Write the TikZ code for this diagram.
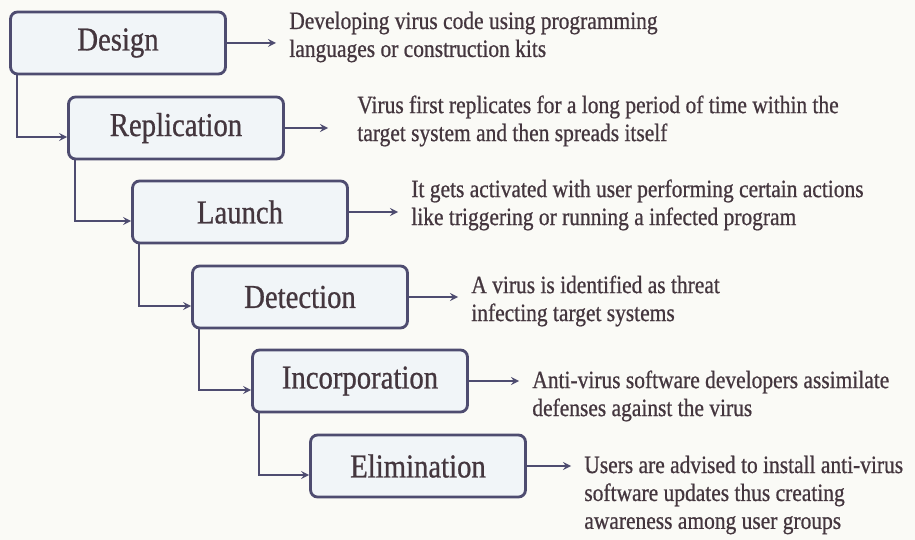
\documentclass[tikz,border=0pt]{standalone}
\usepackage{fontspec}
\setmainfont[FakeStretch=0.86, FakeBold=0.7]{Liberation Serif}
\usetikzlibrary{positioning}
\definecolor{boxline}{RGB}{78,76,112}
\definecolor{boxfill}{RGB}{241,245,248}
\definecolor{ink}{RGB}{68,54,62}
\definecolor{paper}{RGB}{250,250,246}
\begin{document}
\begin{tikzpicture}[x=0.02cm, y=-0.02cm,
        stage/.style={draw=boxline, fill=boxfill, line width=1.6pt, rounded corners=4pt,
            minimum width=4.3cm, minimum height=1.24cm, text=ink, font=\fontsize{19}{22}\selectfont},
        desc/.style={anchor=west, align=left, text=ink, inner xsep=0.26cm, inner ysep=0pt,
            font=\fontsize{14.2}{15.9}\selectfont},
        flow/.style={->, >=stealth, draw=boxline, line width=1pt}]
    \fill[paper] (0,0) rectangle (915,540);
    \useasboundingbox (0,0) rectangle (915,540);
    % stages
    \node[stage] (design) at (118,43) {Design};
    \node[stage] (repl) at (176,128) {Replication};
    \node[stage] (launch) at (240,212) {Launch};
    \node[stage] (detect) at (300,297) {Detection};
    \node[stage] (incorp) at (360,381) {Incorporation};
    \node[stage] (elim) at (418,466) {Elimination};
    % descriptions
    \node[desc] (designtxt) at (276,37) {Developing virus code using programming\\languages or construction kits};
    \node[desc] (repltxt) at (344,121) {Virus first replicates for a long period of time within the\\target system and then spreads itself};
    \node[desc] (launchtxt) at (398,205) {It gets activated with user performing certain actions\\like triggering or running a infected program};
    \node[desc] (detecttxt) at (458,301) {A virus is identified as threat\\infecting target systems};
    \node[desc] (incorptxt) at (519,396) {Anti-virus software developers assimilate\\defenses against the virus};
    \node[desc] (elimtxt) at (571,495) {Users are advised to install anti-virus\\software updates thus creating\\awareness among user groups};
    % steps down the staircase
    \draw[flow] ([xshift=0.16cm]design.south west) |- ([yshift=-0.18cm]repl.west);
    \draw[flow] ([xshift=0.16cm]repl.south west) |- ([yshift=-0.18cm]launch.west);
    \draw[flow] ([xshift=0.16cm]launch.south west) |- ([yshift=-0.18cm]detect.west);
    \draw[flow] ([xshift=0.16cm]detect.south west) |- ([yshift=-0.18cm]incorp.west);
    \draw[flow] ([xshift=0.16cm]incorp.south west) |- ([yshift=-0.18cm]elim.west);
    % arrows to the descriptions
    \draw[flow] (design.east) -- (design.east -| designtxt.west);
    \draw[flow, shorten >=0.32cm] (repl.east) -- (repl.east -| repltxt.west);
    \draw[flow] (launch.east) -- (launch.east -| launchtxt.west);
    \draw[flow] (detect.east) -- (detect.east -| detecttxt.west);
    \draw[flow] (incorp.east) -- (incorp.east -| incorptxt.west);
    \draw[flow] (elim.east) -- (elim.east -| elimtxt.west);
\end{tikzpicture}
\end{document}
